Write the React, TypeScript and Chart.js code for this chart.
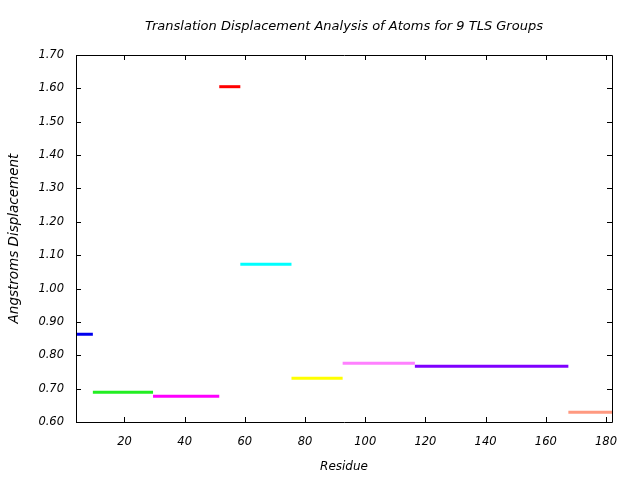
import React, { useEffect, useRef } from "react";
import { Chart, registerables } from "chart.js";

Chart.register(...registerables);

const chartTitle = "Translation Displacement Analysis of Atoms for 9 TLS Groups";
const xAxisTitle = "Residue";
const yAxisTitle = "Angstroms Displacement";

const groupStarts = [3.9, 9.5, 29.5, 51.5, 58.5, 75.5, 92.5, 116.5, 167.5];
const groupEnds = [9.5, 29.5, 51.5, 58.5, 75.5, 92.5, 116.5, 167.5, 182.5];
const displacements = [0.863, 0.689, 0.677, 1.605, 1.073, 0.731, 0.776, 0.767, 0.629];
const groupColors = ["#0000ee", "#22ee22", "#ff00ff", "#ff0000", "#00ffff", "#ffff00", "#ff80ff", "#7f00ff", "#ff9980"];

const xTickValues = [20, 40, 60, 80, 100, 120, 140, 160, 180];
const yTickValues = [0.6, 0.7, 0.8, 0.9, 1.0, 1.1, 1.2, 1.3, 1.4, 1.5, 1.6, 1.7];

const X_MIN = 3.9;
const X_MAX = 182;
const Y_MIN = 0.6;
const Y_MAX = 1.7;

const FONT_FAMILY = "'DejaVu Sans', sans-serif";

const framePlugin = {
  id: "frameAndInwardTicks",
  afterDatasetsDraw(chart: any) {
    const { ctx, chartArea, scales } = chart;
    const { left, right, top, bottom } = chartArea;
    const tl = 5;
    ctx.save();
    ctx.strokeStyle = "#000000";
    ctx.lineWidth = 1;
    ctx.beginPath();
    ctx.rect(Math.round(left) + 0.5, Math.round(top) + 0.5, Math.round(right - left), Math.round(bottom - top));
    ctx.stroke();
    ctx.beginPath();
    for (const v of xTickValues) {
      const px = Math.round(scales.x.getPixelForValue(v)) + 0.5;
      ctx.moveTo(px, bottom);
      ctx.lineTo(px, bottom - tl);
      ctx.moveTo(px, top);
      ctx.lineTo(px, top + tl);
    }
    for (const v of yTickValues) {
      const py = Math.round(scales.y.getPixelForValue(v)) + 0.5;
      ctx.moveTo(left, py);
      ctx.lineTo(left + tl, py);
      ctx.moveTo(right, py);
      ctx.lineTo(right - tl, py);
    }
    ctx.stroke();
    // Title centred over the plot area
    ctx.fillStyle = "#000000";
    ctx.font = `italic normal 13px ${FONT_FAMILY}`;
    ctx.textAlign = "center";
    ctx.textBaseline = "middle";
    ctx.fillText(chartTitle, (left + right) / 2, 27);
    ctx.restore();
  },
};

export default function App() {
  const canvasRef = useRef<HTMLCanvasElement | null>(null);

  useEffect(() => {
    const canvas = canvasRef.current;
    if (!canvas) return;
    const datasets = displacements.map((d, i) => ({
      label: `Group ${i + 1}`,
      data: [
        { x: groupStarts[i], y: d },
        { x: groupEnds[i], y: d },
      ],
      borderColor: groupColors[i],
      backgroundColor: groupColors[i],
      borderWidth: 3,
      borderCapStyle: "butt" as const,
      pointRadius: 0,
      fill: false,
      tension: 0,
    }));

    const chart = new Chart(canvas, {
      type: "line",
      data: { datasets },
      plugins: [framePlugin],
      options: {
        animation: false,
        responsive: false,
        devicePixelRatio: 1,
        layout: { padding: { left: 0, right: 28, top: 55, bottom: 0 } },
        plugins: {
          legend: { display: false },
          tooltip: { enabled: false },
          title: { display: false },
        },
        scales: {
          x: {
            type: "linear",
            min: X_MIN,
            max: X_MAX,
            afterBuildTicks: (scale: any) => {
              scale.ticks = xTickValues.map((v) => ({ value: v }));
            },
            afterFit: (scale: any) => {
              scale.height = 58;
            },
            grid: { display: false, drawOnChartArea: false, drawTicks: false },
            border: { display: false },
            ticks: {
              color: "#000000",
              padding: 13,
              maxRotation: 0,
              autoSkip: false,
              font: { family: FONT_FAMILY, size: 11.5, style: "italic" },
              callback: (v: any) => String(v),
            },
            title: {
              display: true,
              text: xAxisTitle,
              color: "#000000",
              font: { family: FONT_FAMILY, size: 12, style: "italic" },
              padding: { top: 0, bottom: 6 },
            },
          },
          y: {
            type: "linear",
            min: Y_MIN,
            max: Y_MAX,
            afterBuildTicks: (scale: any) => {
              scale.ticks = yTickValues.map((v) => ({ value: v }));
            },
            afterFit: (scale: any) => {
              scale.width = 76;
            },
            grid: { display: false, drawOnChartArea: false, drawTicks: false },
            border: { display: false },
            ticks: {
              color: "#000000",
              padding: 12,
              autoSkip: false,
              font: { family: FONT_FAMILY, size: 11.5, style: "italic" },
              callback: (v: any) => Number(v).toFixed(2),
            },
            title: {
              display: true,
              text: yAxisTitle,
              color: "#000000",
              font: { family: FONT_FAMILY, size: 13.5, style: "italic" },
              padding: { top: 6, bottom: 0 },
            },
          },
        },
      },
    });
    return () => chart.destroy();
  }, []);

  return (
    <div style={{ position: "absolute", left: 0, top: 0, width: 640, height: 480, background: "#ffffff" }}>
      <canvas ref={canvasRef} width={640} height={480} style={{ display: "block", width: 640, height: 480 }} />
    </div>
  );
}
